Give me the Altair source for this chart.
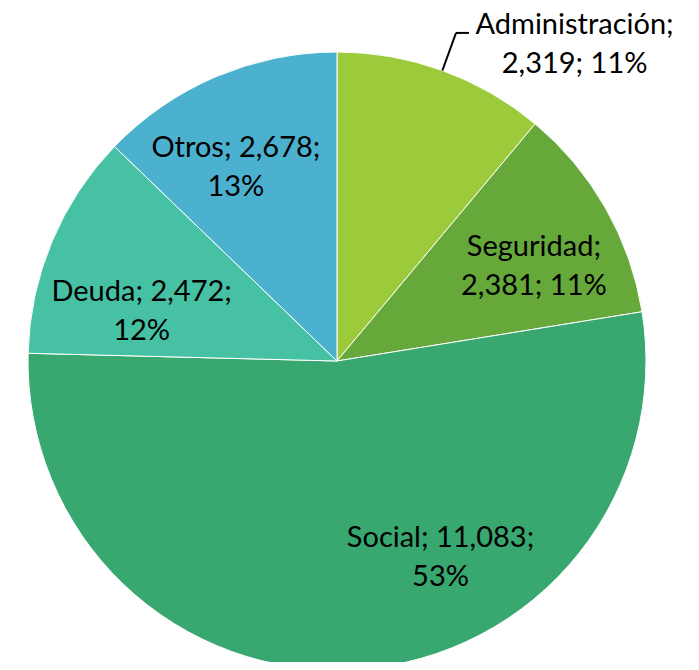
import altair as alt
import pandas as pd

categories = ["Administración", "Seguridad", "Social", "Deuda", "Otros"]
values = [2319, 2381, 11083, 2472, 2678]
colors = ["#9BCB3B", "#66A83A", "#38A870", "#46C1A3", "#4BB1CF"]

label_lines = {
    "Administración": "Administración;\n2,319; 11%",
    "Seguridad": "Seguridad;\n2,381; 11%",
    "Social": "Social; 11,083;\n53%",
    "Deuda": "Deuda; 2,472;\n12%",
    "Otros": "Otros; 2,678;\n13%",
}

df = pd.DataFrame({
    "cat": categories,
    "value": values,
    "idx": list(range(len(categories))),
    "label": [label_lines[c] for c in categories],
})

CX, CY, R = 329, 353, 309
FONT = "Lato"
FS = 29

theta = alt.Theta("value:Q", stack=True)
order = alt.Order("idx:Q")

pie = alt.Chart(df).mark_arc(outerRadius=R, stroke="white", strokeWidth=1).encode(
    theta=theta,
    order=order,
    color=alt.Color("cat:N", scale=alt.Scale(domain=categories, range=colors), legend=None),
    x=alt.value(CX),
    y=alt.value(CY),
)

offsets = {
    "Administración": (380, 108, 21),
    "Seguridad": (215, 10, -8),
    "Social": (215, 89, -38),
    "Deuda": (215, 3, 14),
    "Otros": (215, -17, -15),
}

layers = [pie]
for c in categories:
    rad, dx, dy = offsets[c]
    t = alt.Chart(df).mark_text(
        radius=rad, dx=dx, dy=dy, font=FONT, fontSize=FS, lineBreak="\n",
        lineHeight=39, align="center", baseline="middle", color="black",
    ).encode(
        theta=theta,
        order=order,
        text=alt.condition(alt.datum.cat == c, alt.Text("label:N"), alt.value("")),
        x=alt.value(CX),
        y=alt.value(CY),
    )
    layers.append(t)

base_leader = alt.Chart(df).transform_window(
    cum="sum(value)", sort=[alt.SortField("idx")]
).transform_joinaggregate(
    total="sum(value)"
).transform_calculate(
    a="2*PI*(datum.cum - datum.value/2)/datum.total"
).transform_filter(
    alt.datum.cat == "Administración"
).transform_calculate(
    x1=f"{CX} + {R}*sin(datum.a)",
    y1=f"{CY} - {R}*cos(datum.a)",
    x2=f"{CX} + {R + 40}*sin(datum.a)",
    y2=f"{CY} - {R + 40}*cos(datum.a)",
    x3=f"{CX} + {R + 40}*sin(datum.a) + 13",
)

leader1 = base_leader.mark_rule(color="black", strokeWidth=2).encode(
    x=alt.X("x1:Q", scale=None, axis=None),
    y=alt.Y("y1:Q", scale=None, axis=None),
    x2="x2:Q",
    y2="y2:Q",
)
leader2 = base_leader.mark_rule(color="black", strokeWidth=2).encode(
    x=alt.X("x2:Q", scale=None, axis=None),
    y=alt.Y("y2:Q", scale=None, axis=None),
    x2="x3:Q",
    y2="y2:Q",
)
layers += [leader1, leader2]

chart = alt.layer(*layers).properties(
    width=683, height=654, padding=0,
    autosize=alt.AutoSizeParams(type="none"),
).configure_view(stroke=None)

chart.save("out.html", embed_options={"renderer": "svg", "actions": False})
